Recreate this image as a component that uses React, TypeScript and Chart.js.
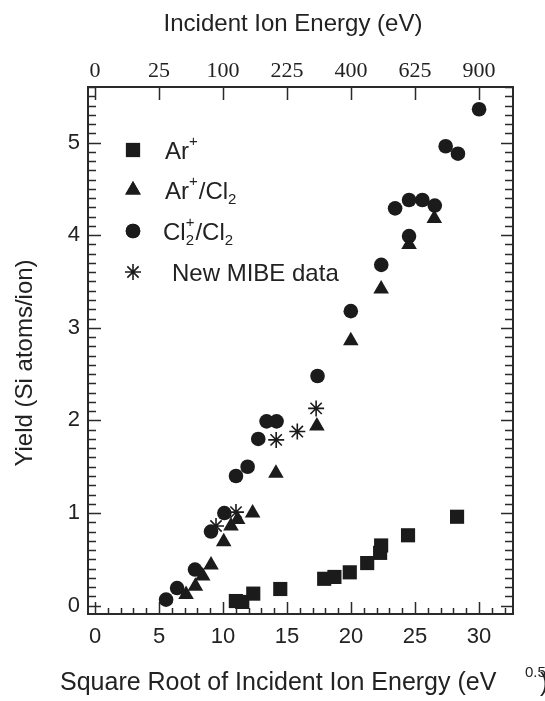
import React, { useEffect, useRef } from "react";
import { Chart, registerables } from "chart.js";
import { drawPoint } from "chart.js/helpers";

Chart.register(...registerables);

// Ar+ beam alone
const arX = [11.0, 11.5, 12.36, 14.47, 17.9, 18.7, 19.9, 21.26, 22.27, 22.35, 24.45, 28.28];
const arY = [0.05, 0.04, 0.13, 0.18, 0.29, 0.31, 0.36, 0.46, 0.57, 0.65, 0.76, 0.96];

// Ar+ with Cl2 flux
const arClX = [7.11, 7.84, 8.41, 9.06, 10.05, 10.62, 11.14, 12.31, 14.13, 17.33, 19.98, 22.35, 24.53, 26.5];
const arClY = [0.12, 0.21, 0.32, 0.44, 0.69, 0.86, 0.93, 1.0, 1.43, 1.94, 2.86, 3.42, 3.9, 4.18];

// Cl2+ with Cl2 flux
const clX = [5.55, 6.41, 7.81, 9.06, 10.1, 11.01, 11.92, 12.75, 13.4, 14.18, 17.38, 19.98, 22.36, 23.44, 24.53, 24.53, 25.57, 26.54, 27.39, 28.35, 30.0];
const clY = [0.065, 0.19, 0.39, 0.8, 1.0, 1.4, 1.5, 1.8, 1.99, 1.99, 2.48, 3.18, 3.68, 4.29, 3.99, 4.38, 4.38, 4.32, 4.96, 4.88, 5.36];

// New MIBE measurements
const mibeX = [9.45, 11.01, 14.15, 15.8, 17.27];
const mibeY = [0.86, 1.01, 1.79, 1.88, 2.13];

// Axis ticks
const bottomTicks = [0, 5, 10, 15, 20, 25, 30];
const leftTicks = [0, 1, 2, 3, 4, 5];
const topEnergies = [0, 25, 100, 225, 400, 625, 900];

const X_MIN = -0.55;
const X_MAX = 32.65;
const Y_MIN = -0.09;
const Y_MAX = 5.6;

const INK = "#1b1b1b";
const SANS = "'Liberation Sans', Arial, Helvetica, sans-serif";
const SERIF = "'Liberation Serif', 'Times New Roman', serif";

const pts = (xs: number[], ys: number[]) => xs.map((x, i) => ({ x, y: ys[i] }));

// White page, boxed frame with inward ticks on all four sides
const framePlugin = {
  id: "frame",
  beforeDraw(chart: any) {
    const { ctx, width, height } = chart;
    ctx.save();
    ctx.fillStyle = "#fff";
    ctx.fillRect(0, 0, width, height);
    ctx.restore();
  },
  beforeDatasetsDraw(chart: any) {
    const { ctx, chartArea: a, scales } = chart;
    const x = scales.x;
    const y = scales.y;
    ctx.save();
    ctx.strokeStyle = "#2a2a2a";
    ctx.lineWidth = 1.5;
    ctx.beginPath();
    // left / right: minor every 0.1, major every 1
    for (let i = 0; i <= 56; i++) {
      const v = i / 10;
      const py = Math.round(y.getPixelForValue(v)) + 0.5;
      const major = i % 10 === 0;
      ctx.moveTo(a.left, py);
      ctx.lineTo(a.left + (major ? 13 : 8), py);
      ctx.moveTo(a.right, py);
      ctx.lineTo(a.right - (major ? 12 : 8), py);
    }
    // bottom: minor every 1, major every 5
    for (let v = 0; v <= 32; v++) {
      const px = Math.round(x.getPixelForValue(v)) + 0.5;
      const major = v % 5 === 0;
      ctx.moveTo(px, a.bottom);
      ctx.lineTo(px, a.bottom - (major ? 12 : 6));
    }
    // top: energy ticks
    for (const e of topEnergies) {
      const px = Math.round(x.getPixelForValue(Math.sqrt(e))) + 0.5;
      ctx.moveTo(px, a.top);
      ctx.lineTo(px, a.top + 13);
    }
    ctx.stroke();
    ctx.lineWidth = 2;
    ctx.strokeRect(a.left, a.top, a.right - a.left, a.bottom - a.top);
    ctx.restore();
  },
};

// Draws a run of text pieces; each piece may be raised (sup) or lowered (sub)
type Piece = { t: string; kind?: "sup" | "sub" | "supsub"; sub?: string };
function drawRich(ctx: CanvasRenderingContext2D, x: number, base: number, pieces: Piece[], size: number) {
  let cx = x;
  const small = Math.round(size * 0.62);
  for (const p of pieces) {
    if (!p.kind) {
      ctx.font = `${size}px ${SANS}`;
      ctx.fillText(p.t, cx, base);
      cx += ctx.measureText(p.t).width;
    } else if (p.kind === "sup") {
      ctx.font = `${small}px ${SANS}`;
      ctx.fillText(p.t, cx, base - size * 0.55);
      cx += ctx.measureText(p.t).width + 1;
    } else if (p.kind === "sub") {
      ctx.font = `${small}px ${SANS}`;
      ctx.fillText(p.t, cx, base + size * 0.2);
      cx += ctx.measureText(p.t).width + 1;
    } else {
      ctx.font = `${small}px ${SANS}`;
      ctx.fillText(p.t, cx, base - size * 0.55);
      const w1 = ctx.measureText(p.t).width;
      ctx.fillText(p.sub || "", cx, base + size * 0.2);
      const w2 = ctx.measureText(p.sub || "").width;
      cx += Math.max(w1, w2) + 1;
    }
  }
}

const legendRows: { pieces: Piece[]; dx: number }[] = [
  { pieces: [{ t: "Ar" }, { t: "+", kind: "sup" }], dx: 0 },
  { pieces: [{ t: "Ar" }, { t: "+", kind: "sup" }, { t: "/Cl" }, { t: "2", kind: "sub" }], dx: 0 },
  { pieces: [{ t: "Cl" }, { t: "+", kind: "supsub", sub: "2" }, { t: "/Cl" }, { t: "2", kind: "sub" }], dx: -2 },
  { pieces: [{ t: "New MIBE data" }], dx: 7 },
];

const annotationPlugin = {
  id: "annotations",
  afterDraw(chart: any) {
    const { ctx, chartArea: a } = chart;
    ctx.save();
    ctx.fillStyle = "#222";
    ctx.textBaseline = "alphabetic";
    ctx.textAlign = "left";

    // legend inside the plot
    const mx = a.left + 45;
    const rowY = [150, 190, 231, 272];
    chart.data.datasets.forEach((ds: any, i: number) => {
      ctx.fillStyle = INK;
      ctx.strokeStyle = INK;
      ctx.lineWidth = ds.borderWidth || 1;
      drawPoint(ctx, { pointStyle: ds.pointStyle, radius: ds.pointRadius, borderWidth: ds.borderWidth || 0, rotation: 0 }, mx, rowY[i]);
      if (ds.pointStyle !== "star") ctx.fill();
      ctx.fillStyle = "#222";
      drawRich(ctx, a.left + 77 + legendRows[i].dx, rowY[i] + 9, legendRows[i].pieces, 24);
    });

    // top title
    ctx.font = `24px ${SANS}`;
    ctx.textAlign = "center";
    ctx.textBaseline = "middle";
    ctx.fillText("Incident Ion Energy (eV)", 293, 24);

    // y title
    ctx.save();
    ctx.translate(25, 363);
    ctx.rotate(-Math.PI / 2);
    ctx.fillText("Yield (Si atoms/ion)", 0, 0);
    ctx.restore();

    // bottom title with superscript exponent
    ctx.textAlign = "left";
    ctx.textBaseline = "alphabetic";
    ctx.font = `25px ${SANS}`;
    ctx.fillText("Square Root of Incident Ion Energy (eV", 60, 690);
    ctx.font = `15px ${SANS}`;
    ctx.fillText("0.5", 525, 677);
    ctx.font = `25px ${SANS}`;
    ctx.fillText(")", 540, 691);
    ctx.restore();
  },
};

export default function App() {
  const ref = useRef<HTMLCanvasElement>(null);

  useEffect(() => {
    if (!ref.current) return;
    const tickFont = { family: SANS, size: 22 };
    const chart = new Chart(ref.current, {
      type: "scatter",
      data: {
        datasets: [
          { label: "Ar+", data: pts(arX, arY), pointStyle: "rect", pointRadius: 10, backgroundColor: INK, borderColor: INK, borderWidth: 0 },
          { label: "Ar+/Cl2", data: pts(arClX, arClY), pointStyle: "triangle", pointRadius: 9, backgroundColor: INK, borderColor: INK, borderWidth: 0 },
          { label: "Cl2+/Cl2", data: pts(clX, clY), pointStyle: "circle", pointRadius: 7.3, backgroundColor: INK, borderColor: INK, borderWidth: 0 },
          { label: "New MIBE data", data: pts(mibeX, mibeY), pointStyle: "star", pointRadius: 8, backgroundColor: INK, borderColor: INK, borderWidth: 1.6 },
        ] as any,
      },
      options: {
        responsive: false,
        animation: false,
        events: [],
        layout: { padding: { left: 0, right: 32, top: 0, bottom: 0 } },
        plugins: { legend: { display: false }, tooltip: { enabled: false } },
        scales: {
          x: {
            type: "linear",
            position: "bottom",
            min: X_MIN,
            max: X_MAX,
            grid: { display: false, drawTicks: false },
            border: { display: false },
            afterBuildTicks: (s: any) => {
              s.ticks = bottomTicks.map((v) => ({ value: v }));
            },
            afterFit: (s: any) => {
              s.height = 87;
            },
            ticks: { font: tickFont, color: "#222", padding: 10, maxRotation: 0, autoSkip: false },
          },
          x2: {
            type: "linear",
            position: "top",
            min: X_MIN,
            max: X_MAX,
            grid: { display: false, drawTicks: false },
            border: { display: false },
            afterBuildTicks: (s: any) => {
              s.ticks = topEnergies.map((e) => ({ value: Math.sqrt(e) }));
            },
            afterFit: (s: any) => {
              s.height = 87;
            },
            ticks: {
              font: { family: SERIF, size: 22 },
              color: "#222",
              padding: 3,
              maxRotation: 0,
              autoSkip: false,
              callback: (v: any) => String(Math.round(Number(v) * Number(v))),
            },
          },
          y: {
            type: "linear",
            position: "left",
            min: Y_MIN,
            max: Y_MAX,
            grid: { display: false, drawTicks: false },
            border: { display: false },
            afterBuildTicks: (s: any) => {
              s.ticks = leftTicks.map((v) => ({ value: v }));
            },
            afterFit: (s: any) => {
              s.width = 88;
            },
            ticks: { font: tickFont, color: "#222", padding: 8, autoSkip: false },
          },
        },
      } as any,
      plugins: [framePlugin, annotationPlugin],
    });
    return () => chart.destroy();
  }, []);

  return (
    <div style={{ position: "fixed", left: 0, top: 0, width: 545, height: 701, background: "#fff" }}>
      <canvas ref={ref} width={545} height={701} style={{ display: "block", width: 545, height: 701 }} />
    </div>
  );
}
